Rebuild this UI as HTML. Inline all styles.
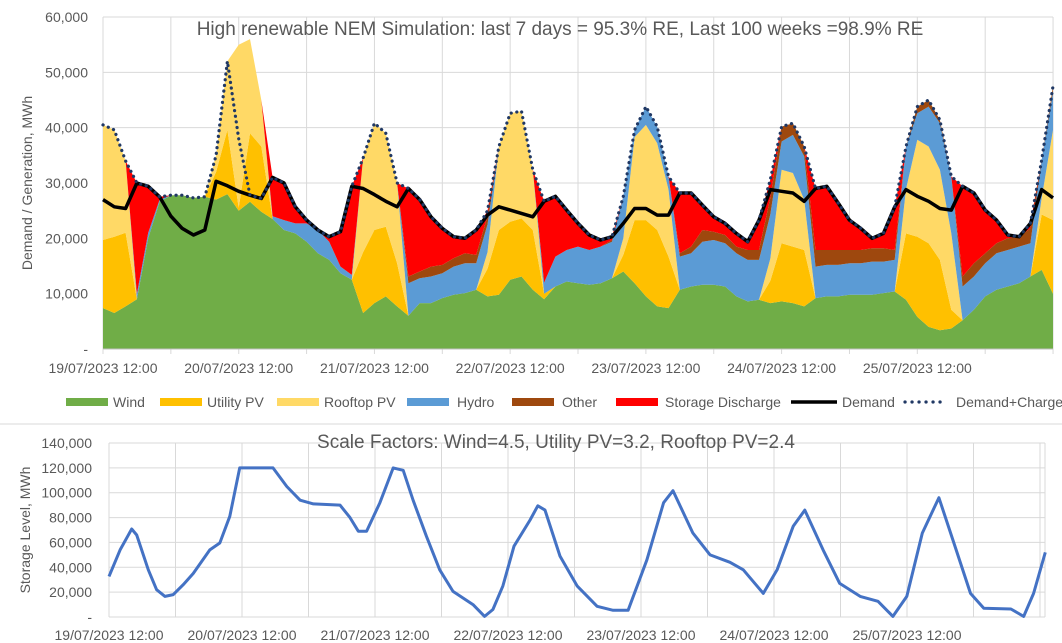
<!DOCTYPE html>
<html><head><meta charset="utf-8"><style>
html,body{margin:0;padding:0;background:#fff;}
svg{display:block;font-family:"Liberation Sans",Arial,sans-serif;}
</style></head><body>
<svg id="chart" width="1062" height="643" viewBox="0 0 1062 643" xmlns="http://www.w3.org/2000/svg">
<rect x="0" y="0" width="1062" height="643" fill="#fff"/>
<g id="topChart"></g>
<g id="botChart"></g>
</svg>
<script>
// ---- top chart data (hours from 19/07/2023 12:00, 2-hour steps), values in GW (x1000 MW)
const hours = [0,2,4,6,8,10,12,14,16,18,20,22,24,26,28,30,32,34,36,38,40,42,44,46,48,50,52,54,56,58,60,62,64,66,68,70,72,74,76,78,80,82,84,86,88,90,92,94,96,98,100,102,104,106,108,110,112,114,116,118,120,122,124,126,128,130,132,134,136,138,140,142,144,146,148,150,152,154,156,158,160,162,164,166,168];
const wind = [7.4,6.5,7.7,9,20,26.6,27.8,27.8,27.3,27.5,27,28,25,26.6,24.8,23.5,21.5,20.9,19.4,17.3,16.1,13.7,12.5,6.5,8.3,9.5,7.7,6,8.3,8.3,9.2,9.8,10.1,10.7,9.5,9.8,12.5,13.1,10.7,9,11.3,12.2,11.9,11.6,11.9,12.8,14,11.9,9.5,7.7,7.4,10.7,11.3,11.6,11.6,11.3,9.5,8.6,8.9,8.3,8.6,8.3,7.7,9.2,9.5,9.5,9.8,9.8,9.8,10.1,10.4,8.9,5.8,4,3.4,3.7,5.2,7.1,9.5,10.7,11.3,11.9,13.1,14.3,10];
const utilityPV = [12.3,13.8,13.3,0,0,0,0,0,0,0,5,11.6,0.5,12.4,11.8,0,0,0,0,0,0,0,0,11,13.2,12.6,7.8,0,0,0,0,0,0,0,5,11.7,10.5,10.5,10.8,1,0,0,0,0,0,0,3,11.4,13.8,13.8,9.3,0,0,0,0,0,0,0,0,4,10.5,10.2,10.2,0,0,0,0,0,0,0,0,12,14.5,15.1,12.7,3.4,0,0,0,0,0,0,0,10,13.3];
const rooftopPV = [20.8,19.3,13,0,0,0,0,0,0,0,3,12.4,29.5,17,8.4,0,0,0,0,0,0,0,0,17,19.3,16.9,14.5,0,0,0,0,0,0,0,3,15.1,19.6,19.4,10.9,0,0,0,0,0,0,0,3,15,17.2,15.7,12.1,0,0,0,0,0,0,0,0,4,13.3,13.3,9.1,0,0,0,0,0,0,0,0,8,17.5,17.5,16.3,13.8,0,0,0,0,0,0,0,3,16.3];
const hydro = [0,0,0,1,1,0.4,0,0,0,0,0,0,0,0,0,0.5,1.8,1.8,3.3,4.2,3.3,1.2,0.9,0,0,0,0,5.9,4.5,4.8,4.5,5.1,5.4,4.8,5,0,0,0,0,2,5.4,5.7,6.6,6.3,6.6,6.6,7.6,1.3,3.3,3,2.4,6,6,7.8,8.1,7.8,7.8,7.5,7.2,8,5.1,6.9,7.8,5.7,5.7,5.7,5.7,5.7,6,5.7,5.7,7.7,4.8,7.2,8.4,10.3,6.1,6,6,6.6,6.6,6.6,6,6.9,6.9];
const other = [0,0,0,0,0,0,0,0,0,0,0,0,0,0,0,0,0,0,0,0,0,0,0,0,0,0,0,1.2,1.2,1.8,1.5,1.5,1.8,1.5,1.5,0,0,0,0,0,0,0,0,0,0,0.3,0,0,0,0,0,0.6,1.2,2.1,1.5,1.5,1.2,1.8,1.8,3,2.7,2.1,1.8,3,2.7,2.7,2.4,2.4,2.4,2.4,1.8,0,1.2,1.2,0.6,0,1.8,2.4,1.8,1.8,2.1,1.8,2.7,0,1];
const storageDischarge = [0,0,0,20,8.4,0.5,0,0,0,0,0,0,0,0,0,7,6.7,3,0.6,0,0.9,6.3,16,0,0,0,0,15.9,13,9,6.6,3.9,2.7,4.5,1,0,0,0,0,14.7,10.9,7.2,4.2,2.7,1.2,0.6,0,0,0,0,0,10.9,9.7,4.5,2.7,2.1,2.4,1.5,5.4,3.3,0,0,0,11.1,11.5,8.5,5.4,3.9,1.8,2.7,7.8,0,0,0,0,0,16.3,12.7,7.8,4.2,0.6,0,0.9,0,0];
const demand = [27,25.7,25.4,30,29.4,27.5,24,21.8,20.6,21.5,30.3,29.5,28.5,27.8,27.2,31,30,25.7,23.3,21.5,20.3,21.2,29.4,29,27.9,26.7,25.7,29,27,23.9,21.8,20.3,20,21.5,24.2,25.7,25.1,24.5,23.9,26.7,27.6,25.1,22.7,20.6,19.7,20.3,22.7,25.4,25.4,24.2,24.2,28.2,28.2,26,23.9,22.7,20.9,19.4,23.3,28.8,28.5,28.2,26.7,29,29.4,26.4,23.3,21.8,20,20.9,25.7,28.8,27.6,26.7,25.4,25.1,29.4,28.2,25.1,23.3,20.6,20.3,22.7,28.8,27.3];
const demandCharge = [40.5,39.6,34,30,29.4,27.5,27.8,27.8,27.3,27.5,35,52,38,27.8,27.2,31,30,25.7,23.3,21.5,20.3,21.2,29.4,34.5,40.8,39,30,29,27,23.9,21.8,20.3,20,21.5,25,36.6,42.6,43,32.4,26.7,27.6,25.1,22.7,20.6,19.7,20.3,27.6,39.6,43.8,40.2,31.2,28.2,28.2,26,23.9,22.7,20.9,19.4,23.3,30.6,40.2,40.8,36.6,29,29.4,26.4,23.3,21.8,20,20.9,25.7,36.6,43.8,45,41.4,31.2,29.4,28.2,25.1,23.3,20.6,20.3,22.7,34.2,47.5];
const topYTicks = ["-","10,000","20,000","30,000","40,000","50,000","60,000"];
const dayLabels = ["19/07/2023 12:00","20/07/2023 12:00","21/07/2023 12:00","22/07/2023 12:00","23/07/2023 12:00","24/07/2023 12:00","25/07/2023 12:00"];
// ---- storage chart data (hour, thousand MWh)
const storageHours = [0,2,4.1,5,7.1,8.6,10.1,11.6,13.4,15.2,18.2,20,21.8,23.6,29.6,32.1,34.5,36.9,41.7,43.5,45,46.5,48.9,51.3,53.1,54.9,57.3,59.7,62.1,65.7,67.8,69.3,71.1,73.1,76,77.4,78.7,81.4,84.5,88.1,91,93.7,97.1,100.1,101.8,105.4,108.5,112.1,114.5,118.1,120.6,123.5,125.6,128.9,131.9,135.6,138.8,141.5,144,146.8,149.8,152.5,155.5,157.9,162.8,165.1,166.9,169];
const storageLevel = [32.7,54,70.8,66,38,22,16.6,18,26,35,54,59.5,81,120,120,105,94,91,90,80,69,69,92,120,118,94,65,38,20.6,10,0.5,6,25,57,78,89.5,86,49,25,8.6,5.4,5.4,46,92,101.6,67.5,50,44,38,19,38,73,86,54,27,16.6,12.6,0.5,16.6,67.5,96,59.5,19,7,6.4,0.5,19,52];
const botYTicks = ["-","20,000","40,000","60,000","80,000","100,000","120,000","140,000"];

const NS = "http://www.w3.org/2000/svg";
function mk(parent, tag, attrs, text){
  const e = document.createElementNS(NS, tag);
  for (const k in attrs) e.setAttribute(k, attrs[k]);
  if (text !== undefined) e.textContent = text;
  parent.appendChild(e);
  return e;
}
const gray = "#595959";

// ===== TOP CHART =====
const topG = document.getElementById('topChart');
const TL = 103, TR = 1053, TT = 17, TB = 349;
const tx = h => TL + h * 5.655;
const ty = v => TB - v * 1000 * (TB - TT) / 60000;

for (let i = 0; i <= 6; i++) {
  const gl = mk(topG, 'line', {x1: TL, x2: TR, y1: ty(i*10), y2: ty(i*10), stroke: '#d9d9d9', 'stroke-width': 1});
  
  
  const t = mk(topG, 'text', {x: 88, y: ty(i*10) + 5, 'text-anchor': 'end', 'font-size': 14, fill: gray}, topYTicks[i]);
  
  
}
for (let k = 0; k <= 14; k++) {
  const x = tx(k*12);
  const gl = mk(topG, 'line', {x1: x, x2: x, y1: TT, y2: TB + 5, stroke: '#d9d9d9', 'stroke-width': 1});
  
  
}
dayLabels.forEach((lab, d) => {
  const t = mk(topG, 'text', {x: tx(d*24), y: 373, 'text-anchor': 'middle', 'font-size': 14, fill: gray}, lab);
  
  
});

const series = [
  {arr: wind, color: '#70AD47', name: 'wind-area'},
  {arr: utilityPV, color: '#FFC000', name: 'utility-pv-area'},
  {arr: rooftopPV, color: '#FFD966', name: 'rooftop-pv-area'},
  {arr: hydro, color: '#5B9BD5', name: 'hydro-area'},
  {arr: other, color: '#9E480E', name: 'other-area'},
  {arr: storageDischarge, color: '#FF0000', name: 'storage-discharge-area'}
];
let base = hours.map(() => 0);
series.forEach(s => {
  const topv = base.map((b, i) => b + (s.arr[i] || 0));
  let d = '';
  hours.forEach((h, i) => { d += (i ? 'L' : 'M') + tx(h).toFixed(1) + ',' + ty(topv[i]).toFixed(1); });
  for (let i = hours.length - 1; i >= 0; i--) d += 'L' + tx(hours[i]).toFixed(1) + ',' + ty(base[i]).toFixed(1);
  d += 'Z';
  const p = mk(topG, 'path', {d: d, fill: s.color, stroke: 'none'});
  
  
  base = topv;
});
function linePath(xs, ys, fx, fy){
  return xs.map((h, i) => (i ? 'L' : 'M') + fx(h).toFixed(1) + ',' + fy(ys[i] || 0).toFixed(1)).join('');
}
const dem = mk(topG, 'path', {d: linePath(hours, demand, tx, ty), fill: 'none', stroke: '#000', 'stroke-width': 3.5, 'stroke-linejoin': 'round'});


const dc = mk(topG, 'path', {d: linePath(hours, demandCharge, tx, ty), fill: 'none', stroke: '#203864', 'stroke-width': 3.2, 'stroke-linecap': 'round', 'stroke-dasharray': '0.1 5.6'});


mk(topG, 'line', {x1: TL, x2: TR, y1: TB, y2: TB, stroke: '#bfbfbf', 'stroke-width': 1});

const tTitle = mk(topG, 'text', {x: 560, y: 35, 'text-anchor': 'middle', 'font-size': 19, fill: gray}, 'High renewable NEM Simulation: last 7 days = 95.3% RE, Last 100 weeks =98.9% RE');


const tY = mk(topG, 'text', {x: 0, y: 0, transform: 'translate(32,183) rotate(-90)', 'text-anchor': 'middle', 'font-size': 14, fill: gray}, 'Demand / Generation, MWh');



// legend
const legendItems = [
  {x: 66, tx: 113, type: 'box', color: '#70AD47', label: 'Wind', name: 'legend-wind'},
  {x: 160, tx: 207, type: 'box', color: '#FFC000', label: 'Utility PV', name: 'legend-utility-pv'},
  {x: 277, tx: 324, type: 'box', color: '#FFD966', label: 'Rooftop PV', name: 'legend-rooftop-pv'},
  {x: 407, tx: 457, type: 'box', color: '#5B9BD5', label: 'Hydro', name: 'legend-hydro'},
  {x: 512, tx: 562, type: 'box', color: '#9E480E', label: 'Other', name: 'legend-other'},
  {x: 616, tx: 665, type: 'box', color: '#FF0000', label: 'Storage Discharge', name: 'legend-storage-discharge'},
  {x: 791, tx: 842, type: 'line', color: '#000', label: 'Demand', name: 'legend-demand'},
  {x: 905, tx: 956, type: 'dots', color: '#203864', label: 'Demand+Charge', name: 'legend-demand-charge'}
];
legendItems.forEach(it => {
  const g = mk(topG, 'g', {});
  
  
  if (it.type === 'box') mk(g, 'rect', {x: it.x, y: 398, width: 42, height: 8, fill: it.color});
  else if (it.type === 'line') mk(g, 'line', {x1: it.x, x2: it.x + 46, y1: 402, y2: 402, stroke: '#000', 'stroke-width': 3.5});
  else mk(g, 'line', {x1: it.x, x2: it.x + 42, y1: 402, y2: 402, stroke: it.color, 'stroke-width': 3.2, 'stroke-linecap': 'round', 'stroke-dasharray': '0.1 6.9'});
  mk(g, 'text', {x: it.tx, y: 407, 'font-size': 14, fill: gray}, it.label);
});

// separator
mk(topG, 'line', {x1: 0, x2: 1062, y1: 424, y2: 424, stroke: '#d9d9d9', 'stroke-width': 1});

// ===== BOTTOM CHART =====
const botG = document.getElementById('botChart');
const BL = 109, BR = 1045, BT = 443, BB = 617;
const bx = h => BL + h * 5.54;
const by = v => BB - v * 1000 * (BB - BT) / 140000;
for (let i = 0; i <= 7; i++) {
  const gl = mk(botG, 'line', {x1: BL, x2: BR, y1: by(i*20), y2: by(i*20), stroke: '#d9d9d9', 'stroke-width': 1});
  
  
  const t = mk(botG, 'text', {x: 92, y: by(i*20) + 5, 'text-anchor': 'end', 'font-size': 14, fill: gray}, botYTicks[i]);
  
  
}
for (let k = 0; k <= 14; k++) {
  const x = BL + k * 66.5;
  const gl = mk(botG, 'line', {x1: x, x2: x, y1: BT, y2: BB, stroke: '#d9d9d9', 'stroke-width': 1});
  
  
}
mk(botG, 'line', {x1: BR, x2: BR, y1: BT, y2: BB, stroke: '#d9d9d9', 'stroke-width': 1});
dayLabels.forEach((lab, d) => {
  const t = mk(botG, 'text', {x: BL + d * 133, y: 640, 'text-anchor': 'middle', 'font-size': 14, fill: gray}, lab);
  
  
});
const sl = mk(botG, 'path', {d: linePath(storageHours, storageLevel, bx, by), fill: 'none', stroke: '#4472C4', 'stroke-width': 3, 'stroke-linejoin': 'round'});


const bTitle = mk(botG, 'text', {x: 556, y: 448, 'text-anchor': 'middle', 'font-size': 19, fill: gray}, 'Scale Factors: Wind=4.5, Utility PV=3.2, Rooftop PV=2.4');


const bY = mk(botG, 'text', {x: 0, y: 0, transform: 'translate(30,530) rotate(-90)', 'text-anchor': 'middle', 'font-size': 14, fill: gray}, 'Storage Level, MWh');


</script>
</body></html>
